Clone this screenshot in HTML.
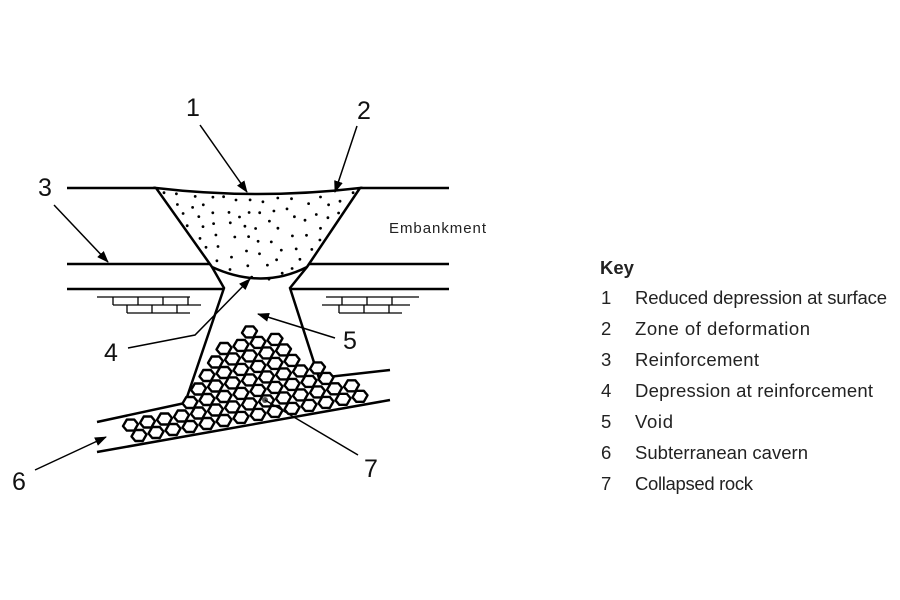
<!DOCTYPE html>
<html><head><meta charset="utf-8"><style>
html,body{margin:0;padding:0;background:#fff;width:900px;height:600px;overflow:hidden}
svg{display:block}
.k{font-family:"Liberation Sans",sans-serif;font-size:18.5px;fill:#222}
.n{font-family:"Liberation Sans",sans-serif;font-size:25px;fill:#111}
</style></head><body>
<svg id="s" width="900" height="600" viewBox="0 0 900 600" xmlns="http://www.w3.org/2000/svg">
<defs><marker id="a" markerWidth="12" markerHeight="9" refX="11" refY="4.5" orient="auto" markerUnits="userSpaceOnUse"><path d="M0,0 L12,4.5 L0,9 z" fill="#000"/></marker></defs>
<g stroke="#000" stroke-width="2.5" fill="none">
<line x1="67" y1="188" x2="156" y2="188"/><line x1="360" y1="188" x2="449" y2="188"/>
<line x1="67" y1="264" x2="220" y2="264"/><line x1="300" y1="264" x2="449" y2="264"/>
<line x1="67" y1="289" x2="224" y2="289"/><line x1="290" y1="289" x2="449" y2="289"/>
<path d="M156,188 Q258,200 360,188 L307,267 Q262,290 212,267 Z" fill="#fff"/>
<path d="M212,267 L224,288 L185,403"/>
<path d="M307,267 L290,288 L319,378 L390,370"/>
<path d="M97,422 L185,403"/>
</g>
<g id="dots" fill="#000"></g>
<g id="hex" stroke="#000" stroke-width="2.4" fill="#fff" stroke-linejoin="round"></g>
<line x1="97" y1="452" x2="390" y2="400" stroke="#000" stroke-width="2.5"/>
<g stroke="#000" stroke-width="1.3" fill="none">
<path d="M97,297h93M113,305h88M127,313h63M113,297v8M138,297v8M163,297v8M188,297v8M127,305v8M152,305v8M177,305v8"/>
<path d="M326,297h93M322,305h88M339,313h63M342,297v8M367,297v8M392,297v8M339,305v8M364,305v8M389,305v8"/>
</g>
<circle cx="265" cy="400" r="3" fill="#555"/>
<g stroke="#000" stroke-width="1.5" fill="none" marker-end="url(#a)">
<line x1="200" y1="125" x2="247" y2="192"/>
<line x1="357" y1="126" x2="335" y2="192"/>
<line x1="54" y1="205" x2="108" y2="262"/>
<path d="M128,348 L195,335 L250,279"/>
<line x1="335" y1="338" x2="258" y2="314"/>
<line x1="35" y1="470" x2="106" y2="437"/>
</g>
<line x1="265" y1="400" x2="358" y2="455" stroke="#000" stroke-width="1.5"/>
<text class="n" x="186" y="116">1</text>
<text class="n" x="357" y="119">2</text>
<text class="n" x="38" y="196">3</text>
<text class="n" x="104" y="361">4</text>
<text class="n" x="343" y="349">5</text>
<text class="n" x="12" y="490">6</text>
<text class="n" x="364" y="477">7</text>
<text x="389" y="233" font-family="Liberation Sans,sans-serif" font-size="15" fill="#222" textLength="97">Embankment</text>
<text class="k" x="600" y="274" font-weight="bold" fill="#333">Key</text>
<g class="k">
<text x="601" y="304">1</text><text x="635" y="304" textLength="252">Reduced depression at surface</text>
<text x="601" y="335">2</text><text x="635" y="335" textLength="175">Zone of deformation</text>
<text x="601" y="366">3</text><text x="635" y="366" textLength="124">Reinforcement</text>
<text x="601" y="397">4</text><text x="635" y="397" textLength="238">Depression at reinforcement</text>
<text x="601" y="428">5</text><text x="635" y="428" textLength="38">Void</text>
<text x="601" y="459">6</text><text x="635" y="459" textLength="173">Subterranean cavern</text>
<text x="601" y="490">7</text><text x="635" y="490" textLength="118">Collapsed rock</text>
</g>
</svg>
<script>
var NS="http://www.w3.org/2000/svg";
function inPoly(x,y,p){var c=false;for(var i=0,j=p.length-1;i<p.length;j=i++){if(((p[i][1]>y)!=(p[j][1]>y))&&(x<(p[j][0]-p[i][0])*(y-p[i][1])/(p[j][1]-p[i][1])+p[i][0]))c=!c;}return c;}
var seed=7;function r(){seed=(seed*9301+49297)%233280;return seed/233280;}
var funnel=[[162,192],[258,198],[354,192],[305,265],[262,284],[216,265]];
var dg=document.getElementById("dots");
var pts0=[];
for(var k=0;k<5000&&dg.childNodes.length<110;k++){var x=160+r()*200,y=192+r()*88;if(!inPoly(x,y,funnel))continue;var ok=true;for(var q=0;q<pts0.length;q++){var dx=pts0[q][0]-x,dy=pts0[q][1]-y;if(dx*dx+dy*dy<110){ok=false;break;}}if(!ok)continue;pts0.push([x,y]);var c=document.createElementNS(NS,"circle");c.setAttribute("cx",x.toFixed(1));c.setAttribute("cy",y.toFixed(1));c.setAttribute("r","1.4");dg.appendChild(c);}
var pile=[[258,326],[322,370],[370,386],[392,402],[100,460],[100,436],[186,400],[204,356],[238,332]];
function bot(x){return 452-(x-97)*0.1775;}
function ltop(x){return 422-(x-97)*0.216;}
function lneck(y){return 223-(y-288)*0.33;}
var hg=document.getElementById("hex");
for(var row=0;row<12;row++){for(var col=-2;col<24;col++){var x=105+col*17+(row%2?8.5:0);var y=bot(x)-9-row*12;if(x<125||x>362)continue;if(!inPoly(x,y,pile))continue;if(x<185&&y-3<ltop(x))continue;if(y<403&&x-4<lneck(y))continue;var w=7.5,h=5.5;var pts=[[x-w,y+1],[x-w/2,y-h],[x+w/2,y-h],[x+w,y-1],[x+w/2,y+h],[x-w/2,y+h]].map(function(p){return p[0].toFixed(1)+","+p[1].toFixed(1)}).join(" ");var pg=document.createElementNS(NS,"polygon");pg.setAttribute("points",pts);hg.appendChild(pg);}}
</script>
</body></html>
